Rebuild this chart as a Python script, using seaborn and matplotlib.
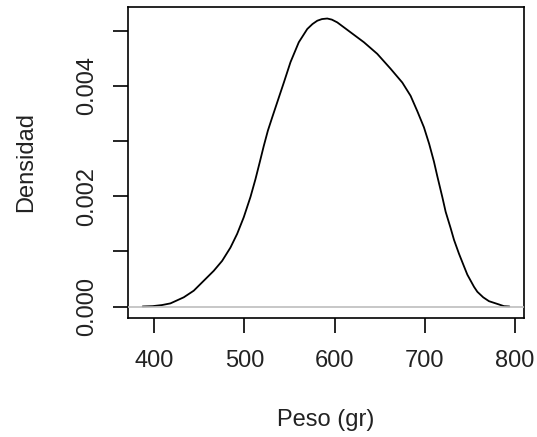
import matplotlib
matplotlib.use("Agg")
import matplotlib.pyplot as plt
import seaborn as sns
import pandas as pd

# Density curve (peso in gr, densidad)
peso = [387, 398, 408.5, 417.8, 432.6, 443.7, 454.8, 465.9, 475.2, 484.4,
        491.9, 499.2, 506.7, 512.2, 517.0, 521.4, 526.0, 530.8, 535.5, 540.0,
        543.7, 551.1, 560.3, 569.7, 575.5, 580.8, 586.0, 591.9, 597.0, 603.0,
        617.8, 632.6, 647.4, 662.2, 675.2, 684.4, 691.9, 699.2, 705.0, 710.3,
        714.1, 719.7, 723.3, 728.9, 732.6, 738.1, 743.7, 747.4, 754.8, 758.5,
        765.0, 771.4, 782.6, 788, 794]
densidad = [0.000004, 0.00001, 0.00003, 0.00006, 0.00017, 0.00029, 0.00047,
            0.00065, 0.00083, 0.00107, 0.00132, 0.00162, 0.00199, 0.00231,
            0.00262, 0.00291, 0.00319, 0.00343, 0.00366, 0.00388, 0.00406,
            0.00443, 0.00479, 0.00503, 0.00512, 0.00518, 0.00521, 0.00522,
            0.00520, 0.00515, 0.00497, 0.00479, 0.00458, 0.00431, 0.00406,
            0.00382, 0.00354, 0.00325, 0.00295, 0.00263, 0.00236, 0.00198,
            0.00172, 0.00142, 0.00121, 0.00096, 0.00073, 0.00058, 0.00036,
            0.00027, 0.00017, 0.00010, 0.00004, 0.00001, 0.000004]

x_ticks = [400, 500, 600, 700, 800]
y_ticks = [0.000, 0.001, 0.002, 0.003, 0.004, 0.005]
y_tick_labels = ["0.000", "", "0.002", "", "0.004", ""]

sns.set_style("white")
plt.rcParams["font.family"] = ["Liberation Sans", "DejaVu Sans"]

df = pd.DataFrame({"peso": peso, "densidad": densidad})

fig = plt.figure(figsize=(5.37, 4.37), dpi=100)
ax = fig.add_axes([128 / 537, 119 / 437, 396 / 537, 311 / 437])

sns.lineplot(data=df, x="peso", y="densidad", color="black", linewidth=1.3,
             sort=False, ax=ax)
ax.margins(x=0.04, y=0.04)
ax.axhline(0, color="#bebebe", linewidth=1.2, zorder=5)

for s in ax.spines.values():
    s.set_color("black")
    s.set_linewidth(1.2)

ax.set_xticks(x_ticks)
ax.set_xticklabels([str(t) for t in x_ticks])
ax.set_yticks(y_ticks)
ax.set_yticklabels(y_tick_labels, rotation=90, va="center")

ax.tick_params(axis="both", direction="out", length=10.8, width=1.2,
               color="black", labelsize=17, labelcolor="#222222")
ax.tick_params(axis="x", pad=12, bottom=True)
ax.tick_params(axis="y", pad=10.5, left=True)

ax.set_xlabel("Peso (gr)", fontsize=17, color="#222222", va="center")
ax.set_ylabel("Densidad", fontsize=17, color="#222222", va="center")
ax.xaxis.set_label_coords(0.5, -0.328)
ax.yaxis.set_label_coords(-0.258, 0.5)

fig.savefig("out.png", dpi=100)
